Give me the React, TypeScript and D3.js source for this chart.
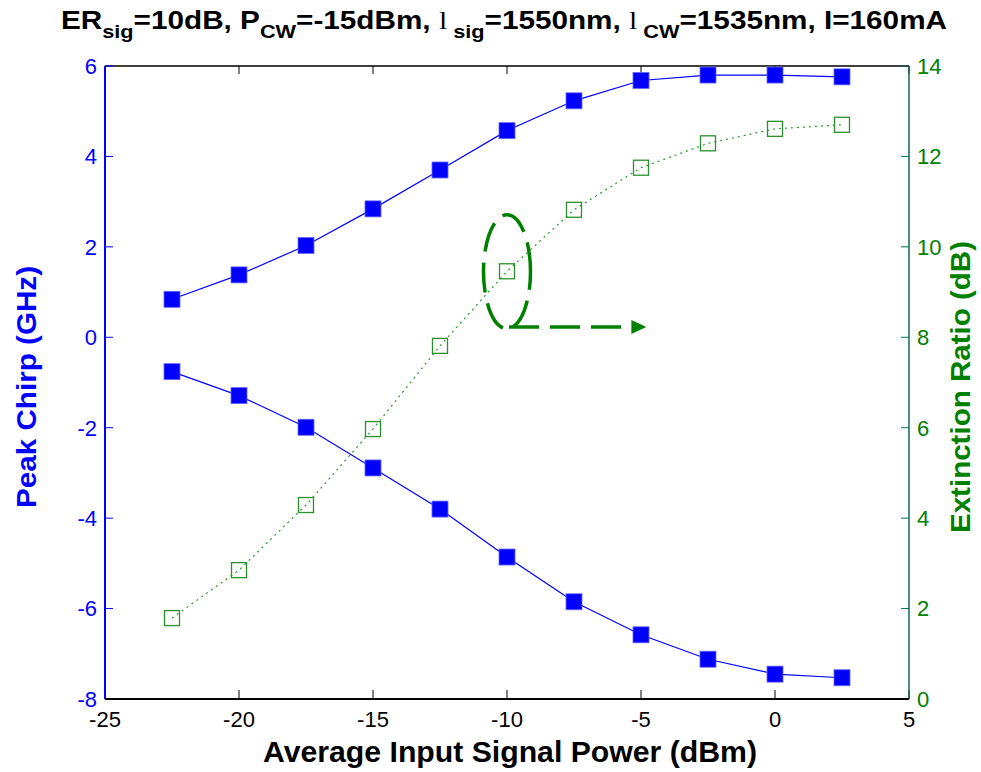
import React from "react";
import * as d3 from "d3";

const xValues = [-22.5, -20, -17.5, -15, -12.5, -10, -7.5, -5, -2.5, 0, 2.5];
const chirpUpper = [0.84, 1.38, 2.03, 2.84, 3.7, 4.57, 5.23, 5.68, 5.8, 5.8, 5.76];
const chirpLower = [-0.76, -1.29, -1.99, -2.89, -3.8, -4.86, -5.85, -6.58, -7.12, -7.45, -7.53];
const extinction = [1.79, 2.85, 4.29, 5.97, 7.81, 9.46, 10.82, 11.75, 12.29, 12.61, 12.7];
const xTicks = [-25, -20, -15, -10, -5, 0, 5];
const leftTicks = [6, 4, 2, 0, -2, -4, -6, -8];
const rightTicks = [14, 12, 10, 8, 6, 4, 2, 0];

const W = 981, H = 772;
const L = 105, R = 909, T = 66, B = 699;
const BLUE = "#0000ff";
const GREEN = "#008000";
const FONT = "'Liberation Sans', Arial, sans-serif";

export default function App() {
  const x = d3.scaleLinear().domain([-25, 5]).range([L, R]);
  const yL = d3.scaleLinear().domain([-8, 6]).range([B, T]);
  const yR = d3.scaleLinear().domain([0, 14]).range([B, T]);
  const lineL = d3.line<number>().x((_, i) => x(xValues[i])).y((d) => yL(d));
  const lineR = d3.line<number>().x((_, i) => x(xValues[i])).y((d) => yR(d));
  const ms = 16;

  // annotation (data coords)
  const ecx = x(-10), ecy = yR(9.45);
  const arrowY = yR(8.23);
  const arrowEnd = x(-4.8);

  return (
    <svg width={W} height={H} style={{ position: "absolute", left: 0, top: 0, background: "#fff" }}>
      <rect x={0} y={0} width={W} height={H} fill="#fff" />
      {/* title */}
      <text x={61} y={29} fontFamily={FONT} fontWeight="bold" fontSize={26} fill="#000"
        textLength={886} lengthAdjust="spacingAndGlyphs">
        <tspan>ER</tspan>
        <tspan fontSize={19} dy={9}>sig</tspan>
        <tspan dy={-9}>=10dB, P</tspan>
        <tspan fontSize={19} dy={9}>CW</tspan>
        <tspan dy={-9}>=-15dBm, </tspan>
        <tspan fontFamily="'Liberation Serif', serif" fontWeight="normal">l</tspan>
        <tspan fontSize={19} dy={9}> sig</tspan>
        <tspan dy={-9}>=1550nm, </tspan>
        <tspan fontFamily="'Liberation Serif', serif" fontWeight="normal">l</tspan>
        <tspan fontSize={19} dy={9}> CW</tspan>
        <tspan dy={-9}>=1535nm, I=160mA</tspan>
      </text>

      {/* box top */}
      <line x1={L} x2={R} y1={T} y2={T} stroke="#000" strokeWidth={1.5} />
      {/* x ticks top & bottom */}
      {xTicks.map((t) => (
        <g key={"xt" + t}>
          <line x1={x(t)} x2={x(t)} y1={B} y2={B - 9} stroke="#000" strokeWidth={1} />
          <line x1={x(t)} x2={x(t)} y1={T} y2={T + 8} stroke="#000" strokeWidth={1} />
          <text x={x(t)} y={727} textAnchor="middle" fontFamily={FONT} fontSize={22} fill="#000">{t}</text>
        </g>
      ))}
      {/* left axis */}
      {leftTicks.map((t) => (
        <g key={"lt" + t}>
          <line x1={L} x2={L + 8} y1={yL(t)} y2={yL(t)} stroke={BLUE} strokeWidth={1} />
          <text x={97} y={yL(t)} dy="0.36em" textAnchor="end" fontFamily={FONT} fontSize={22} fill={BLUE}>{t}</text>
        </g>
      ))}
      {/* right axis */}
      {rightTicks.map((t) => (
        <g key={"rt" + t}>
          <line x1={R} x2={R - 8} y1={yR(t)} y2={yR(t)} stroke="#0b6b4b" strokeWidth={1} />
          <text x={917} y={yR(t)} dy="0.36em" textAnchor="start" fontFamily={FONT} fontSize={22} fill={GREEN}>{t}</text>
        </g>
      ))}
      <line x1={R} x2={R} y1={T} y2={B} stroke="#0b6b4b" strokeWidth={1.5} />
      <line x1={L} x2={R} y1={B} y2={B} stroke="#000" strokeWidth={2} />
      <line x1={L} x2={L} y1={T} y2={B} stroke={BLUE} strokeWidth={2} />

      {/* blue series */}
      <path d={lineL(chirpUpper) || ""} fill="none" stroke={BLUE} strokeWidth={1.2} />
      <path d={lineL(chirpLower) || ""} fill="none" stroke={BLUE} strokeWidth={1.2} />
      {chirpUpper.map((v, i) => (
        <rect key={"u" + i} x={x(xValues[i]) - ms / 2} y={yL(v) - ms / 2} width={ms} height={ms}
          fill={BLUE} stroke="#6666ff" strokeWidth={0.8} />
      ))}
      {chirpLower.map((v, i) => (
        <rect key={"l" + i} x={x(xValues[i]) - ms / 2} y={yL(v) - ms / 2} width={ms} height={ms}
          fill={BLUE} stroke="#6666ff" strokeWidth={0.8} />
      ))}

      {/* green series */}
      {extinction.map((v, i) => (
        <rect key={"e" + i} x={x(xValues[i]) - 7.5} y={yR(v) - 7.5} width={15} height={15}
          fill="none" stroke="#2a902a" strokeWidth={1.3} />
      ))}
      <path d={lineR(extinction) || ""} fill="none" stroke="#249a24" strokeWidth={1.2} strokeDasharray="2 4" />

      {/* annotation */}
      <ellipse cx={ecx} cy={ecy} rx={23.5} ry={57} fill="none" stroke={GREEN} strokeWidth={3.5}
        strokeDasharray="30 11" strokeDashoffset={12} />
      <line x1={ecx} x2={arrowEnd - 14} y1={arrowY} y2={arrowY} stroke={GREEN} strokeWidth={3.5}
        strokeDasharray="30 11" strokeDashoffset={-2} />
      <path d={`M${arrowEnd},${arrowY} L${arrowEnd - 15},${arrowY - 7} L${arrowEnd - 15},${arrowY + 7} Z`} fill={GREEN} />

      {/* axis labels */}
      <text x={510} y={762} textAnchor="middle" fontFamily={FONT} fontWeight="bold" fontSize={29} fill="#000"
        textLength={494} lengthAdjust="spacingAndGlyphs">
        Average Input Signal Power (dBm)
      </text>
      <text transform={`translate(36, 387) rotate(-90)`} textAnchor="middle" fontFamily={FONT} fontWeight="bold"
        fontSize={28} fill={BLUE} textLength={242} lengthAdjust="spacingAndGlyphs">Peak Chirp (GHz)</text>
      <text transform={`translate(970, 387) rotate(-90)`} textAnchor="middle" fontFamily={FONT} fontWeight="bold"
        fontSize={28} fill={GREEN} textLength={292} lengthAdjust="spacingAndGlyphs">Extinction Ratio (dB)</text>
    </svg>
  );
}
